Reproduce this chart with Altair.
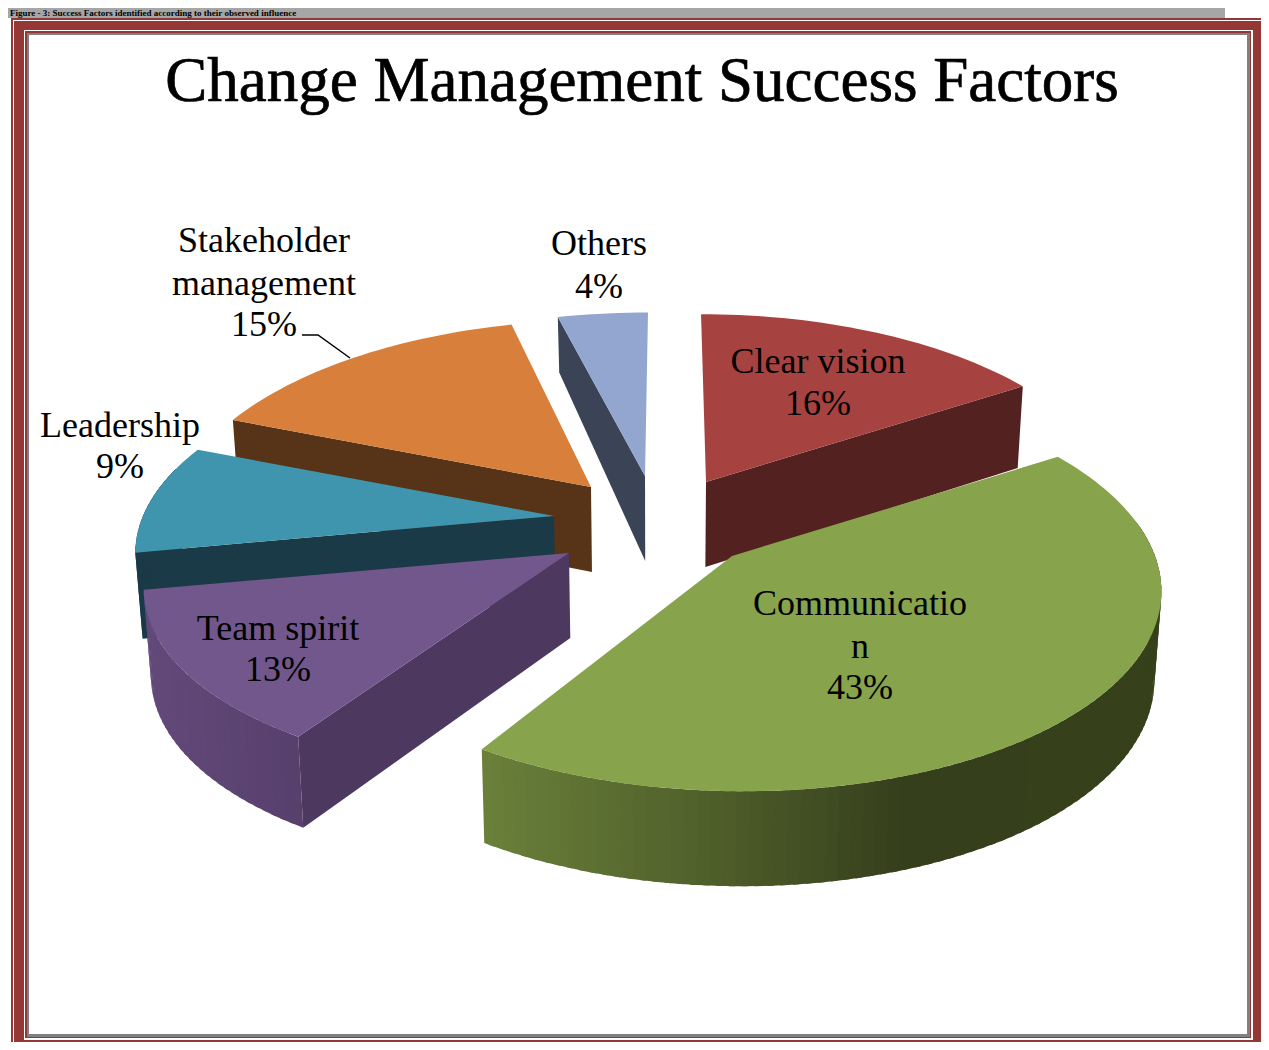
import math
import altair as alt

# ---- data ----
categories = ["Clear vision", "Communication", "Team spirit", "Leadership", "Stakeholder management", "Others"]
percent = [16, 43, 13, 9, 15, 4]
top_colors = ["#A64340", "#87A34C", "#71578C", "#3F94AE", "#D8803B", "#92A6CF"]
wall_colors = ["#542121", "#4D3860", "#4D3860", "#1A3A47", "#573317", "#3B4357"]

# (screen px) label text, one row per line
label_text = ["Stakeholder", "management", "15%", "Others", "4%", "Clear vision", "16%",
              "Communicatio", "n", "43%", "Team spirit", "13%", "Leadership", "9%"]
label_x = [264, 264, 264, 599, 599, 818, 818, 860, 860, 860, 278, 278, 120, 120]
label_y = [252, 295, 336, 255, 298, 373, 415, 615, 658, 699, 640, 681, 437, 478]
title_text = "Change Management Success Factors"
caption_text = "Figure - 3: Success Factors identified according to their observed influence"

# ---- layout of the perspective pie ----
W, H = 1253, 1034
OFF = 8
apex = {"Clear vision": (706, 482), "Communication": (732, 556), "Team spirit": (569, 553),
        "Leadership": (554, 516), "Stakeholder management": (591, 487), "Others": (645, 476)}
radii = {"Clear vision": (409, 193), "Communication": (423, 200), "Team spirit": (418, 190),
         "Leadership": (411, 190), "Stakeholder management": (411, 192), "Others": (415, 188)}
far_depth = {"Others": 0.70, "Communication": 1.03}
K, XC, DEPTH, CONV = 0.15, 668, 85, 0.014
visible_wall = {"Clear vision": "end", "Team spirit": "start", "Leadership": "start",
                "Stakeholder management": "start", "Others": "start"}
draw_order = ["Others", "Stakeholder management", "Leadership", "Clear vision", "Team spirit", "Communication"]
rim_stops = {"Communication": [(480, "#6A803A"), (700, "#50602B"), (900, "#363F1B"), (1160, "#36401B")],
             "Team spirit": [(147, "#62497A"), (300, "#573F6C")],
             "Leadership": [(130, "#1A3A47"), (600, "#1A3A47")]}


def lerp_color(stops, x):
    def rgb(h):
        return [int(h[i:i + 2], 16) for i in (1, 3, 5)]
    if x <= stops[0][0]:
        return stops[0][1]
    for (x0, c0), (x1, c1) in zip(stops, stops[1:]):
        if x <= x1:
            f = (x - x0) / (x1 - x0)
            a, b = rgb(c0), rgb(c1)
            return "#%02X%02X%02X" % tuple(round(p + (q - p) * f) for p, q in zip(a, b))
    return stops[-1][1]


def top_pt(name, deg):
    ax, ay = apex[name]
    rx, ry = radii[name]
    t = math.radians(deg)
    w = 1 + K * math.cos(t)
    return XC + (ax - XC + rx * math.sin(t)) / w, ay - ry * math.cos(t) / w


def bot_pt(name, deg):
    x, y = top_pt(name, deg)
    w = 1 + K * math.cos(math.radians(deg))
    d = DEPTH * w ** -0.5 * far_depth.get(name, 1)
    return x + (660 - x) * CONV, y + d


def apex_bot(name):
    ax, ay = apex[name]
    return ax + (660 - ax) * CONV, ay + DEPTH


def shift(pts):
    return [[round(x - OFF, 2), round(y - OFF, 2)] for x, y in pts]


def poly(pts, fill):
    ring = shift(pts)
    ring.append(ring[0])
    return {"type": "Feature", "properties": {"fill": fill},
            "geometry": {"type": "Polygon", "coordinates": [ring]}}


# ---- caption bar and frame (nested rectangles, screen px); the page margin moves the
#      top band down and the right and lower bands in ----
frame_rects = [(8, 8, 1225, 18, "#A6A6A6"),
               (11, 18, 1261, 1042, "#953735"), (13, 20, 1261, 1042, "#FFFFFF"),
               (14, 21, 1261, 1042, "#953735"), (24, 30, 1253, 1040, "#FFFFFF"),
               (25, 31, 1251, 1038, "#953735"), (27, 33, 1250, 1037, "#808080"),
               (29, 35, 1247, 1034, "#FFFFFF")]
frame_features = [poly([(a, b), (c, b), (c, d), (a, d)], col) for a, b, c, d, col in frame_rects]

# ---- pie geometry from the percentages ----
start = {}
acc = 0
for name, p in zip(categories, percent):
    start[name] = (acc * 3.6, (acc + p) * 3.6)
    acc += p

pie_features = []
for name in draw_order:
    i = categories.index(name)
    a0, a1 = start[name]
    if name in visible_wall:
        e = a0 if visible_wall[name] == "start" else a1
        pie_features.append(poly([apex[name], top_pt(name, e), bot_pt(name, e), apex_bot(name)], wall_colors[i]))
    if name in rim_stops:
        lo, hi = max(a0, 80), min(a1, 285)
        n = max(1, int((hi - lo) / 1.5))
        for j in range(n):
            d0 = lo + (hi - lo) * j / n
            d1 = min(hi, lo + (hi - lo) * (j + 1.5) / n)
            xm = (top_pt(name, d0)[0] + top_pt(name, d1)[0]) / 2
            pie_features.append(poly([top_pt(name, d0), top_pt(name, d1), bot_pt(name, d1), bot_pt(name, d0)],
                                     lerp_color(rim_stops[name], xm)))
    n = max(6, int((a1 - a0) / 1.5))
    rim = [top_pt(name, a0 + (a1 - a0) * j / n) for j in range(n + 1)]
    pie_features.append(poly([apex[name]] + rim, top_colors[i]))

leader = {"type": "Feature", "properties": {},
          "geometry": {"type": "LineString", "coordinates": shift([(302, 335), (318, 335), (350, 358)])}}


def geo_values(feats):
    return alt.InlineData(values={"type": "FeatureCollection", "features": feats},
                          format=alt.DataFormat(property="features", type="json"))


proj = alt.Projection(type="identity", scale=1, translate=[0, 0])
fill_enc = alt.Fill("properties.fill:N", scale=None, legend=None)

frame_layer = alt.Chart(geo_values(frame_features)).mark_geoshape().encode(fill=fill_enc).project(**proj.to_dict())
pie_layer = alt.Chart(geo_values(pie_features)).mark_geoshape().encode(fill=fill_enc).project(**proj.to_dict())
leader_layer = alt.Chart(geo_values([leader])).mark_geoshape(filled=False, stroke="#000000", strokeWidth=1.5).project(**proj.to_dict())

FONT = "Liberation Serif"
x_enc = alt.X("x:Q", scale=None, axis=None)
y_enc = alt.Y("y:Q", scale=None, axis=None)
rows = [{"t": t, "x": x - OFF, "y": y - OFF} for t, x, y in zip(label_text, label_x, label_y)]
labels = alt.Chart(alt.Data(values=rows)).mark_text(font=FONT, fontSize=36, color="#000000", align="center",
                                                    baseline="alphabetic").encode(x=x_enc, y=y_enc, text="t:N")
title = alt.Chart(alt.Data(values=[{"t": title_text, "x": 642 - OFF, "y": 101 - OFF}])).mark_text(
    font=FONT, fontSize=63, color="#000000", stroke="#000000", strokeWidth=0.7, align="center",
    baseline="alphabetic").encode(x=x_enc, y=y_enc, text="t:N")
caption = alt.Chart(alt.Data(values=[{"t": caption_text, "x": 2, "y": 8}])).mark_text(
    font=FONT, fontSize=9, fontWeight="bold", color="#000000", align="left",
    baseline="alphabetic").encode(x=x_enc, y=y_enc, text="t:N")

chart = alt.layer(frame_layer, pie_layer, leader_layer, labels, title, caption).properties(
    width=W, height=H, padding=0, autosize=alt.AutoSizeParams(type="none"),
).configure_view(stroke=None)

chart.save("out.html", embed_options={"renderer": "svg", "actions": False})
